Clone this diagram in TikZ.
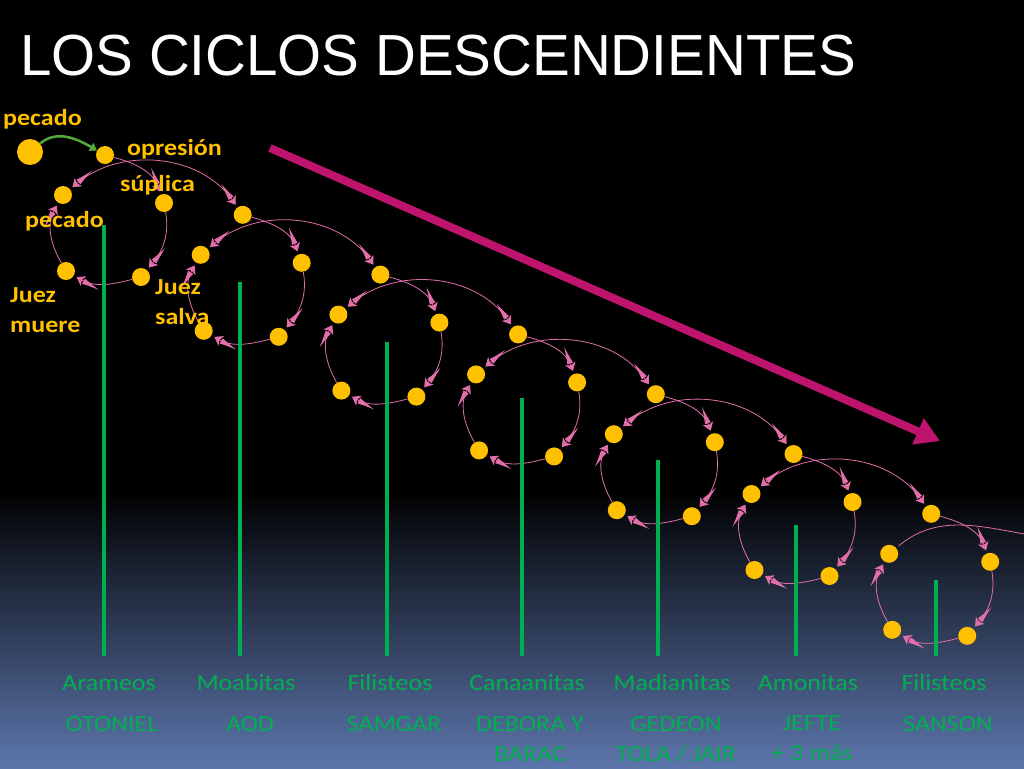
\documentclass[tikz,border=0pt]{standalone}
\usepackage{fontspec}
\setmainfont{Carlito}[FakeStretch=1.13]
\newfontfamily\titlefont{Liberation Sans}[FakeStretch=0.975]
\usetikzlibrary{arrows.meta}
\definecolor{dotorange}{RGB}{255,192,0}
\definecolor{stemgreen}{RGB}{0,176,80}
\definecolor{arcpink}{RGB}{226,110,170}
\definecolor{trendmag}{RGB}{190,20,110}
\definecolor{startgreen}{RGB}{84,170,56}
\definecolor{bgblue}{RGB}{92,118,172}

\begin{document}
\begin{tikzpicture}[x=1pt,y=1pt]
	\tikzstyle{every node}+=[inner sep=0pt]
	\tikzstyle{dot}=[circle,fill=dotorange,minimum size=18pt]
	\tikzstyle{cyc}=[draw=arcpink,line width=0.8pt,shorten >=3pt,
		-{Latex[reversed,length=18pt,width=6pt,fill=arcpink]Stealth[length=8pt,width=11pt,inset=2pt,fill=arcpink]}]
	\tikzstyle{longarc}=[draw=arcpink,line width=0.8pt,shorten <=3pt,shorten >=3pt,
		{Stealth[length=8pt,width=11pt,inset=2pt,fill=arcpink]Latex[reversed,length=18pt,width=6pt,fill=arcpink]}-{Latex[reversed,length=18pt,width=6pt,fill=arcpink]Stealth[length=8pt,width=11pt,inset=2pt,fill=arcpink]}]
	\tikzstyle{stem}=[stemgreen,line width=4pt]
	\tikzstyle{step label}=[text=dotorange,font=\fontsize{23}{30}\selectfont\bfseries,align=left]
	\tikzstyle{enemy}=[text=stemgreen,font=\fontsize{23}{30}\selectfont,anchor=base]
	\tikzstyle{judge}=[text=stemgreen,font=\fontsize{23}{30}\selectfont,align=center,anchor=north]
	% background
	\fill [black] (0,0) rectangle (1024,-768);
	\shade [top color=black,bottom color=bgblue] (0,-490) rectangle (1024,-768);
	\useasboundingbox (0,0) rectangle (1024,-768);
	% descending trend
	\coordinate (trendA) at (270,-148);
	\coordinate (trendB) at (940,-441);
	\draw [trendmag,line width=8pt,-{Triangle[length=24pt,width=27pt]}] (trendA) -- (trendB);
	% the seven cycles
	\foreach \i in {0,...,6} {
		\pgfmathsetmacro\tx{105+137.7*\i}
		\pgfmathsetmacro\ty{-155-59.8*\i}
		\begin{scope}[shift={(\tx,\ty)}]
			\node [dot] (t\i) at (0,0) {};
			\node [dot] (r\i) at (59,-48) {};
			\node [dot] (b\i) at (36,-122) {};
			\node [dot] (m\i) at (-39,-116) {};
			\node [dot] (l\i) at (-42,-40) {};
		\end{scope}
		\draw [cyc] (t\i) to[out=-15,in=110] (r\i);
		\draw [cyc] (r\i) to[out=-80,in=50] (b\i);
		\draw [cyc] (b\i) to[out=195,in=-30] (m\i);
		\draw [cyc] (m\i) to[out=120,in=-120] (l\i);
	}
	\foreach \i/\j in {0/1,1/2,2/3,3/4,4/5,5/6}
		\draw [longarc] (l\i) to[out=40,in=125] (t\j);
	\coordinate (exit) at (1030,-535);
	\draw [longarc,-] (l6) to[out=40,in=170] (exit);
	% stems
	\foreach \x/\y in {104/225,240/282,387/342,522/398,658/460,796/525,936/580}
		\draw [stem] (\x,-\y) -- (\x,-656);
	% first sin
	\node [circle,fill=dotorange,minimum size=26pt] (first) at (30,-152) {};
	\draw [startgreen,line width=2.5pt,-{Triangle[length=7pt,width=9pt]}] (first) to[out=40,in=150] (t0);
	% step labels
	\node [step label,anchor=base west] (pecA) at (3,-125) {pecado};
	\node [step label,anchor=base west] (opre) at (127,-155) {opresión};
	\node [step label,anchor=base west] (supl) at (120,-191) {súplica};
	\node [step label,anchor=base west] (pecB) at (25,-227) {pecado};
	\node [step label,anchor=north west] (muere) at (10,-287) {Juez\\muere};
	\node [step label,anchor=north west] (salva) at (155,-279) {Juez\\salva};
	% enemies and judges
	\node [enemy] (e1) at (109,-690) {Arameos};
	\node [enemy] (e2) at (246,-690) {Moabitas};
	\node [enemy] (e3) at (390,-690) {Filisteos};
	\node [enemy] (e4) at (527,-690) {Canaanitas};
	\node [enemy] (e5) at (672,-690) {Madianitas};
	\node [enemy] (e6) at (808,-690) {Amonitas};
	\node [enemy] (e7) at (944,-690) {Filisteos};
	\node [judge] (j1) at (112,-716) {OTONIEL};
	\node [judge] (j2) at (250,-716) {AOD};
	\node [judge] (j3) at (394,-716) {SAMGAR};
	\node [judge] (j4) at (530,-716) {DEBORA Y\\BARAC};
	\node [judge] (j5) at (676,-716) {GEDEON\\TOLA / JAIR};
	\node [judge] (j6) at (812,-716) {JEFTE\\+ 3 más};
	\node [judge] (j7) at (948,-716) {SANSON};
	% title
	\node [anchor=base west,text=white,font=\titlefont\fontsize{58}{60}\selectfont] (title) at (20,-75) {LOS CICLOS DESCENDIENTES};
\end{tikzpicture}
\end{document}
